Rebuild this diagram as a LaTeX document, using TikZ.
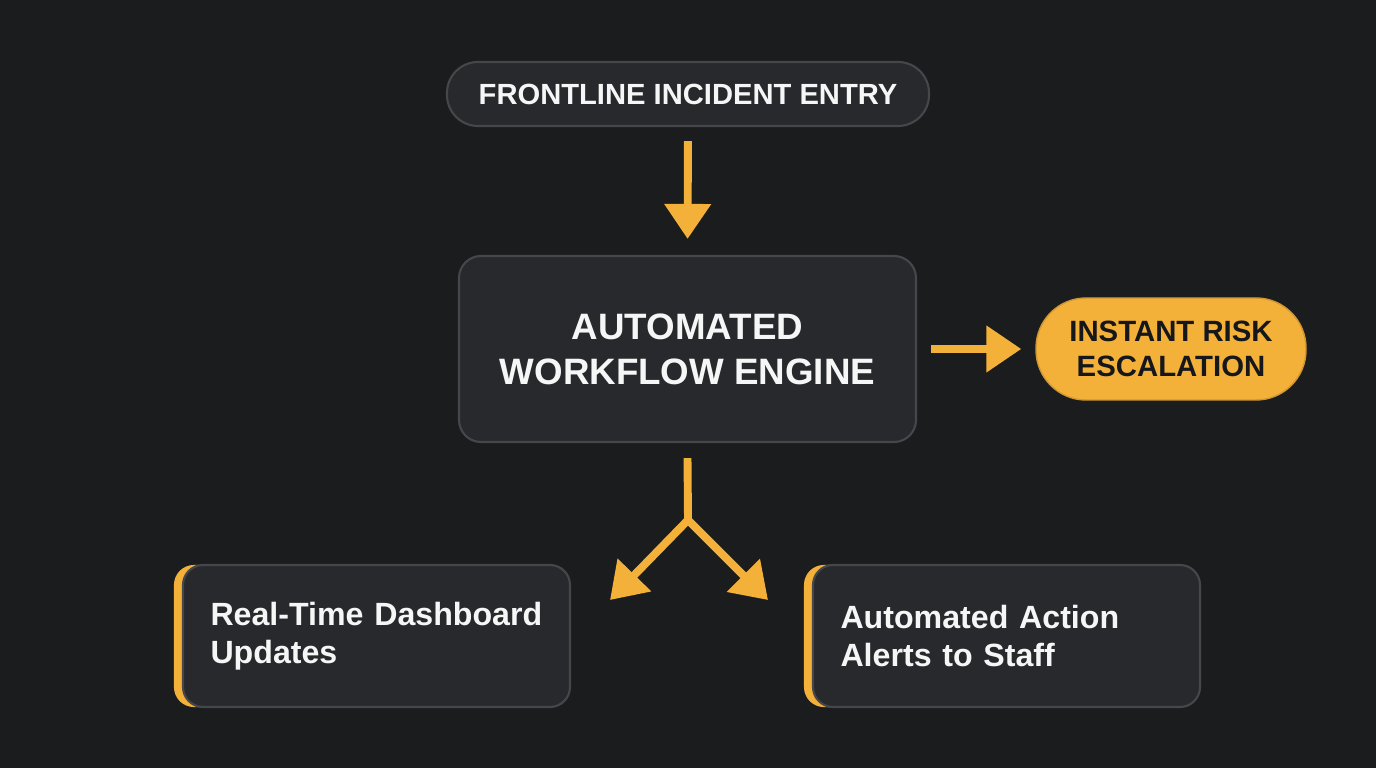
\documentclass[tikz,border=0pt]{standalone}
\usepackage{fontspec}
\setmainfont{Liberation Sans}
\usepackage{tikz}
\usetikzlibrary{arrows.meta,positioning,backgrounds}
\usepackage{xcolor}
\definecolor{bgdark}{HTML}{1B1C1E}
\definecolor{boxfill}{HTML}{27292C}
\definecolor{boxline}{HTML}{45474A}
\definecolor{amber}{HTML}{F4B13A}
\definecolor{paper}{HTML}{F6F6F6}
\definecolor{ink}{HTML}{16171A}

\begin{document}
\begin{tikzpicture}[
  entry/.style={draw=boxline,line width=1.2pt,fill=boxfill,rounded corners=0.62cm,minimum width=9.64cm,minimum height=1.28cm,text=paper,font=\fontsize{16.6}{20}\selectfont\bfseries},
  engine/.style={draw=boxline,line width=1.2pt,fill=boxfill,rounded corners=0.44cm,minimum width=9.14cm,minimum height=3.72cm,align=center,text=paper,font=\fontsize{20.9}{25.6}\selectfont\bfseries},
  escal/.style={draw=amber!85!black,line width=0.8pt,fill=amber,rounded corners=1cm,minimum width=5.4cm,minimum height=2.04cm,align=center,text=ink,font=\fontsize{16.7}{20}\selectfont\bfseries},
  outcome/.style={draw=boxline,line width=1.2pt,fill=boxfill,rounded corners=0.4cm,minimum height=2.84cm,text width=6.64cm,inner xsep=0.55cm,align=left,text=paper,font=\fontsize{18.3}{21.6}\selectfont\bfseries},
  flow/.style={-{Triangle[length=0.7cm,width=0.9cm]},draw=amber,line width=4.5pt,line join=miter}
]
\useasboundingbox (0,0) rectangle (27.52,15.36);
\begin{scope}[on background layer]
\fill[bgdark] (0,0) rectangle (27.52,15.36);
\end{scope}

\node[entry] (front) at (13.76,13.48) {FRONTLINE INCIDENT ENTRY};
\node[engine] (wf) at (13.75,8.38) {AUTOMATED\\WORKFLOW ENGINE};
\node[escal] (risk) at (23.42,8.38) {INSTANT RISK\\ESCALATION};
\node[outcome] (dash) at (7.53,2.64) {Real-Time Dashboard\\Updates};
\node[outcome] (alert) at (20.13,2.64) {Automated Action\\Alerts to Staff};

% amber edge on the left of the two outcome cards
\begin{scope}[on background layer]
\foreach \x in {dash,alert}
  \fill[amber,rounded corners=0.4cm] ([xshift=-0.16cm,yshift=0.02cm]\x.south west) rectangle ([xshift=-1cm,yshift=-0.02cm]\x.north east);
\end{scope}

\coordinate (split) at (13.76,4.96);
\coordinate (leftend) at (12.2,3.36);
\coordinate (rightend) at (15.36,3.36);

\draw[flow,shorten <=0.28cm,shorten >=0.32cm] (front.south) -- (wf.north);
\draw[flow,shorten <=0.28cm,shorten >=0.28cm] (wf.east) -- (risk.west);
\draw[flow] ([yshift=-0.3cm]wf.south) -- (split) -- (leftend);
\draw[flow] (split) -- (rightend);
\end{tikzpicture}
\end{document}
